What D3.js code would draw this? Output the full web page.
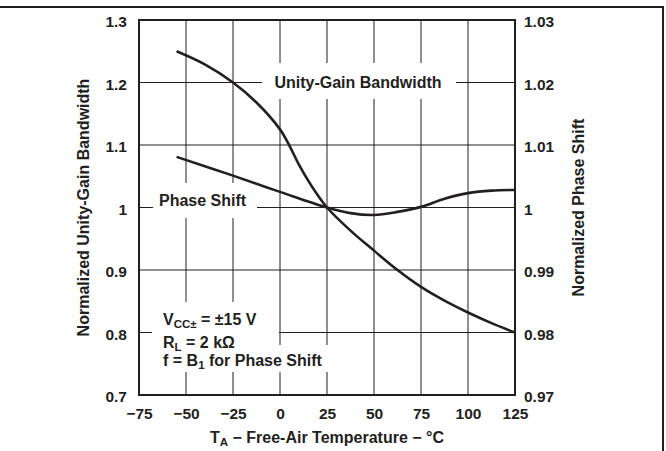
<!DOCTYPE html>
<html>
<head>
<meta charset="utf-8">
<script src="https://cdn.jsdelivr.net/npm/d3@7"></script>
<style>
  body { margin: 0; background: #fff; }
  text { font-family: "Liberation Sans", Arial, sans-serif; font-weight: bold; fill: #231f20; }
</style>
</head>
<body>
<svg id="chart" width="666" height="451"></svg>
<script>
// Normalized UGB and phase shift vs free-air temperature
const tempTicks = [-75, -50, -25, 0, 25, 50, 75, 100, 125];
const ugbTicks = [0.7, 0.8, 0.9, 1.0, 1.1, 1.2, 1.3];
const phaseTicks = [0.97, 0.98, 0.99, 1.0, 1.01, 1.02, 1.03];

const ugbTemp   = [-55, -40, -25, -12.5, 0, 5, 10, 15, 20, 25, 37.5, 50, 62.5, 75, 87.5, 100, 112.5, 125];
const ugbValues = [1.25, 1.229, 1.2, 1.168, 1.125, 1.099, 1.069, 1.043, 1.02, 1.0, 0.963, 0.931, 0.9, 0.873, 0.851, 0.832, 0.815, 0.80];

const phaseTemp   = [-55, -25, 0, 25, 37.5, 50, 62.5, 75, 87.5, 100, 112.5, 125];
const phaseValues = [1.0081, 1.0051, 1.0025, 1.0, 0.9991, 0.9988, 0.9993, 1.0001, 1.0014, 1.0023, 1.0027, 1.0028];

const svg = d3.select('#chart'),
  margin = { top: 20, right: 151, bottom: 56, left: 139 },
  W = +svg.attr('width') - margin.left - margin.right,
  H = +svg.attr('height') - margin.top - margin.bottom;

const ink = '#231f20';
const fmt = v => String(+v.toFixed(2)).replace('-', '\u2212');

// outer frame (top and right only)
svg.append('path')
  .attr('d', 'M0,7H663V451')
  .attr('fill', 'none').attr('stroke', ink).attr('stroke-width', 2);

const g = svg.append('g').attr('transform', `translate(${margin.left},${margin.top})`);

const x = d3.scaleLinear().domain([-75, 125]).range([0, W]);
const y = d3.scaleLinear().domain([0.7, 1.3]).range([H, 0]);
const yR = d3.scaleLinear().domain([0.97, 1.03]).range([H, 0]);

// grid
g.append('g').selectAll('line')
  .data(tempTicks.slice(1, -1)).join('line')
  .attr('x1', d => x(d)).attr('x2', d => x(d))
  .attr('y1', 0).attr('y2', H)
  .attr('stroke', ink).attr('stroke-width', 1);
g.append('g').selectAll('line')
  .data(ugbTicks.slice(1, -1)).join('line')
  .attr('y1', d => y(d)).attr('y2', d => y(d))
  .attr('x1', 0).attr('x2', W)
  .attr('stroke', ink).attr('stroke-width', 1);

// white boxes behind in-plot labels (break the grid)
const boxes = [
  [262 - margin.left, 63 - margin.top, 194, 36],
  [153 - margin.left, 183 - margin.top, 104, 35],
  [152 - margin.left, 302 - margin.top, 127, 44],
  [152 - margin.left, 345 - margin.top, 183, 27]
];
g.append('g').selectAll('rect')
  .data(boxes).join('rect')
  .attr('x', d => d[0]).attr('y', d => d[1])
  .attr('width', d => d[2]).attr('height', d => d[3])
  .attr('fill', '#fff');

// plot border
g.append('rect')
  .attr('width', W).attr('height', H)
  .attr('fill', 'none').attr('stroke', ink).attr('stroke-width', 2);

// axes (labels only)
const axStyle = sel => {
  sel.select('.domain').remove();
  sel.selectAll('text').style('font-size', '15.5px').style('font-family', null).attr('fill', ink);
};
g.append('g').attr('transform', `translate(0,${H})`)
  .call(d3.axisBottom(x).tickValues(tempTicks).tickSize(0).tickPadding(13).tickFormat(fmt))
  .call(axStyle);
g.append('g')
  .call(d3.axisLeft(y).tickValues(ugbTicks).tickSize(0).tickPadding(12).tickFormat(fmt))
  .call(axStyle)
  .selectAll('text').attr('dy', '0.42em');
g.append('g').attr('transform', `translate(${W},0)`)
  .call(d3.axisRight(yR).tickValues(phaseTicks).tickSize(0).tickPadding(9).tickFormat(fmt))
  .call(axStyle)
  .selectAll('text').attr('dy', '0.42em');

// curves
const ugbData = ugbTemp.map((t, i) => [t, ugbValues[i]]);
const phaseData = phaseTemp.map((t, i) => [t, phaseValues[i]]);

g.append('path')
  .datum(ugbData)
  .attr('d', d3.line().x(d => x(d[0])).y(d => y(d[1])).curve(d3.curveCatmullRom.alpha(0.5)))
  .attr('fill', 'none').attr('stroke', ink).attr('stroke-width', 2.6);
g.append('path')
  .datum(phaseData)
  .attr('d', d3.line().x(d => x(d[0])).y(d => yR(d[1])).curve(d3.curveCatmullRom.alpha(0.5)))
  .attr('fill', 'none').attr('stroke', ink).attr('stroke-width', 2.6);

// in-plot labels
svg.append('text').attr('x', 358).attr('y', 88).attr('text-anchor', 'middle')
  .style('font-size', '16px').text('Unity-Gain Bandwidth');
svg.append('text').attr('x', 159).attr('y', 206)
  .style('font-size', '16px').text('Phase Shift');

const note = [
  { y: 325, main: 'V', sub: 'CC\u00b1', rest: ' = \u00b115 V' },
  { y: 348, main: 'R', sub: 'L', rest: ' = 2 k\u03a9' },
  { y: 366, main: 'f = B', sub: '1', rest: ' for Phase Shift' }
];
note.forEach(n => {
  const t = svg.append('text').attr('x', 163).attr('y', n.y).style('font-size', '16px');
  t.append('tspan').text(n.main);
  t.append('tspan').attr('dy', 3).style('font-size', '11.5px').text(n.sub);
  t.append('tspan').attr('dy', -3).text(n.rest);
});

// axis titles
const xt = svg.append('text')
  .attr('x', margin.left + W / 2).attr('y', 443)
  .attr('text-anchor', 'middle').style('font-size', '16px');
xt.append('tspan').text('T');
xt.append('tspan').attr('dy', 3).style('font-size', '11.5px').text('A');
xt.append('tspan').attr('dy', -3).text(' \u2212 Free-Air Temperature \u2212 \u00b0C');

svg.append('text')
  .attr('transform', `translate(89,${margin.top + H / 2}) rotate(-90)`)
  .attr('text-anchor', 'middle').style('font-size', '16px')
  .text('Normalized Unity-Gain Bandwidth');

svg.append('text')
  .attr('transform', `translate(584,${margin.top + H / 2}) rotate(-90)`)
  .attr('text-anchor', 'middle').style('font-size', '16px')
  .text('Normalized Phase Shift');
</script>
</body>
</html>
